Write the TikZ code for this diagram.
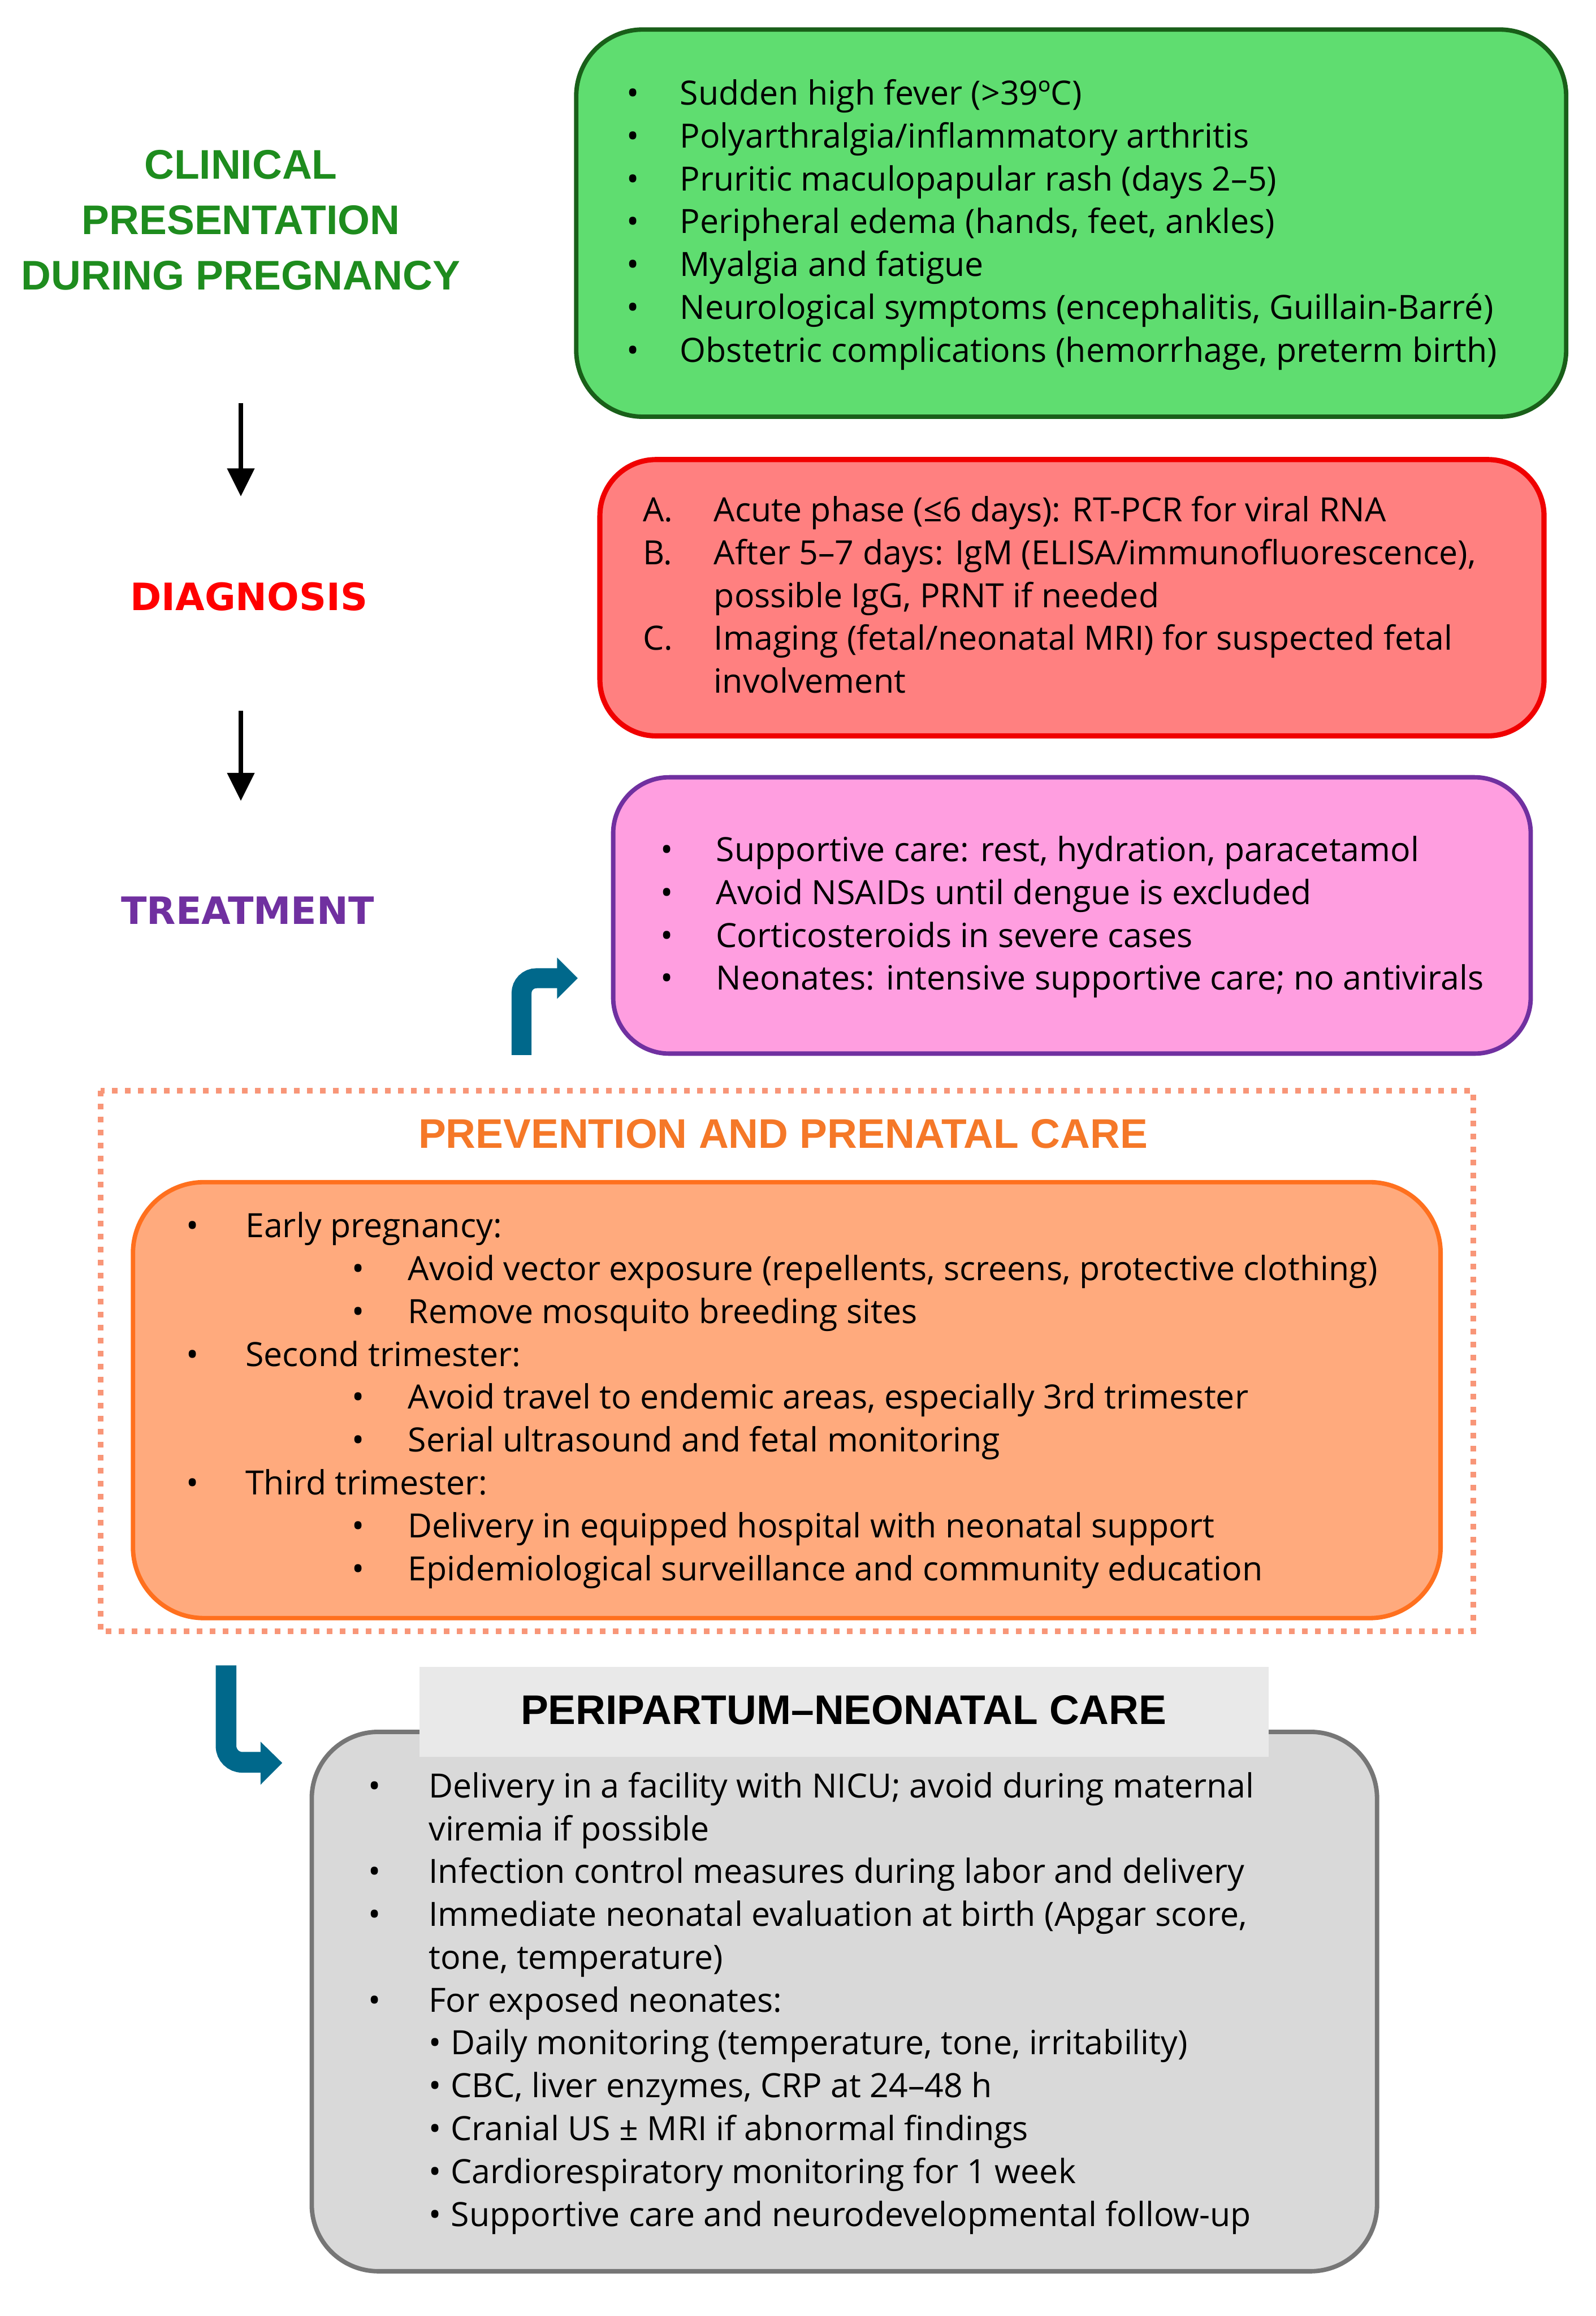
\documentclass[tikz,border=0pt]{standalone}
\usepackage{fontspec}
\setmainfont{Open Sans}
\newfontfamily\headfont{Liberation Sans}
\newfontfamily\dvfont{DejaVu Sans}
\usetikzlibrary{arrows.meta}
\definecolor{greenfill}{RGB}{95,221,112}
\definecolor{greenborder}{RGB}{25,95,25}
\definecolor{greentitle}{RGB}{30,140,30}
\definecolor{redfill}{RGB}{255,128,128}
\definecolor{redborder}{RGB}{240,0,0}
\definecolor{redtitle}{RGB}{255,0,0}
\definecolor{pinkfill}{RGB}{255,158,224}
\definecolor{purpleb}{RGB}{112,48,160}
\definecolor{orangefill}{RGB}{255,170,125}
\definecolor{orangeborder}{RGB}{255,112,30}
\definecolor{orangetitle}{RGB}{245,120,40}
\definecolor{dotcol}{RGB}{248,150,120}
\definecolor{grayfill}{RGB}{217,217,217}
\definecolor{grayborder}{RGB}{118,118,118}
\definecolor{headfill}{RGB}{233,233,233}
\definecolor{tealarrow}{RGB}{0,104,139}
\newcommand\bul[1]{\makebox[#1][l]{•}}
\tikzset{
  panel/.style={draw, line width=3pt, inner sep=0pt},
  body/.style={anchor=base west, inner sep=0pt, font=\fontsize{22.6}{29}\selectfont},
  headA/.style={inner sep=0pt, font=\headfont\bfseries\fontsize{28}{37.5}\selectfont, align=center},
  headB/.style={inner sep=0pt, font=\dvfont\bfseries\fontsize{25.5}{30}\selectfont},
  flowarrow/.style={line width=3pt, -{Triangle[length=19pt,width=18pt]}},
  bentarrow/.style={draw=tealarrow, line width=13.5pt},
}
\begin{document}
\begin{tikzpicture}[x=1pt,y=-1pt]
\useasboundingbox (0,0) rectangle (1080,1567.3);

% ---------- left column titles ----------
\node[headA, text=greentitle, anchor=base] (clin) at (163,196)
  {CLINICAL\\PRESENTATION\\DURING PREGNANCY};
\node[headB, text=redtitle, anchor=base] (diag) at (168.5,413) {DIAGNOSIS};
\node[headB, text=purpleb, anchor=base] (treat) at (167.6,625.3) {TREATMENT};

\coordinate (a1s) at (163,273);
\coordinate (a1e) at (163,336);
\coordinate (a2s) at (163,481);
\coordinate (a2e) at (163,542);
\draw[flowarrow] (a1s) -- (a1e);
\draw[flowarrow] (a2s) -- (a2e);

% ---------- clinical presentation box ----------
\draw[panel, draw=greenborder, fill=greenfill, rounded corners=45pt]
  (390,20) rectangle (1060,282);
\node[body] (clintxt) at (424,71) {\begin{tabular}[t]{@{}l@{}}
\bul{36pt}Sudden high fever (>39ºC)\\
\bul{36pt}Polyarthralgia/inflammatory arthritis\\
\bul{36pt}Pruritic maculopapular rash (days 2–5)\\
\bul{36pt}Peripheral edema (hands, feet, ankles)\\
\bul{36pt}Myalgia and fatigue\\
\bul{36pt}Neurological symptoms (encephalitis, Guillain-Barré)\\
\bul{36pt}Obstetric complications (hemorrhage, preterm birth)
\end{tabular}};

% ---------- diagnosis box ----------
\draw[panel, draw=redborder, fill=redfill, line width=3.5pt, rounded corners=38pt]
  (406,311) rectangle (1045,498);
\node[body] (diagtxt) at (435,353) {\begin{tabular}[t]{@{}l@{}}
\makebox[48pt][l]{A.}Acute phase (≤6 days): RT-PCR for viral RNA\\
\makebox[48pt][l]{B.}After 5–7 days: IgM (ELISA/immunofluorescence),\\
\hspace*{48pt}possible IgG, PRNT if needed\\
\makebox[48pt][l]{C.}Imaging (fetal/neonatal MRI) for suspected fetal\\
\hspace*{48pt}involvement
\end{tabular}};

% ---------- treatment box ----------
\draw[panel, draw=purpleb, fill=pinkfill, rounded corners=38pt]
  (415,526) rectangle (1036,713);
\node[body] (treattxt) at (447,583) {\begin{tabular}[t]{@{}l@{}}
\bul{37.5pt}Supportive care: rest, hydration, paracetamol\\
\bul{37.5pt}Avoid NSAIDs until dengue is excluded\\
\bul{37.5pt}Corticosteroids in severe cases\\
\bul{37.5pt}Neonates: intensive supportive care; no antivirals
\end{tabular}};

% teal bent arrow (up then right)
\coordinate (t1s) at (353,714);
\coordinate (t1e) at (378,662);
\draw[bentarrow, rounded corners=10pt] (t1s) |- (t1e);
\fill[tealarrow] (377,648) -- (391,662) -- (377,676) -- cycle;

% ---------- prevention frame ----------
\draw[draw=dotcol, line width=3.8pt, dash pattern=on 3.8pt off 5pt]
  (68,738) rectangle (997,1104);
\node[headA, text=orangetitle, anchor=base] (prevtitle) at (530,777)
  {PREVENTION AND PRENATAL CARE};
\draw[panel, draw=orangeborder, fill=orangefill, rounded corners=48pt]
  (90,800) rectangle (975,1095);
\node[body] (prevtxt) at (126,837.5) {\begin{tabular}[t]{@{}l@{}}
\bul{40pt}Early pregnancy:\\
\hspace*{112pt}\bul{38pt}Avoid vector exposure (repellents, screens, protective clothing)\\
\hspace*{112pt}\bul{38pt}Remove mosquito breeding sites\\
\bul{40pt}Second trimester:\\
\hspace*{112pt}\bul{38pt}Avoid travel to endemic areas, especially 3rd trimester\\
\hspace*{112pt}\bul{38pt}Serial ultrasound and fetal monitoring\\
\bul{40pt}Third trimester:\\
\hspace*{112pt}\bul{38pt}Delivery in equipped hospital with neonatal support\\
\hspace*{112pt}\bul{38pt}Epidemiological surveillance and community education
\end{tabular}};

% teal bent arrow (down then right)
\coordinate (t2s) at (153,1127);
\coordinate (t2e) at (177,1192.6);
\draw[bentarrow, line width=14pt, rounded corners=11pt] (t2s) |- (t2e);
\fill[tealarrow] (176.3,1178.6) -- (191,1193) -- (176.3,1207.8) -- cycle;

% ---------- peripartum box ----------
\draw[panel, draw=grayborder, fill=grayfill, rounded corners=45pt]
  (211,1172) rectangle (932,1537);
\fill[headfill] (284,1128) rectangle (858.5,1189);
\node[headA, text=black, anchor=base] (peritl) at (571,1167) {PERIPARTUM–NEONATAL CARE};
\node[body] (peritxt) at (249,1216.5) {\begin{tabular}[t]{@{}l@{}}
\bul{41pt}Delivery in a facility with NICU; avoid during maternal\\
\hspace*{41pt}viremia if possible\\
\bul{41pt}Infection control measures during labor and delivery\\
\bul{41pt}Immediate neonatal evaluation at birth (Apgar score,\\
\hspace*{41pt}tone, temperature)\\
\bul{41pt}For exposed neonates:\\
\hspace*{41pt}\bul{15pt}Daily monitoring (temperature, tone, irritability)\\
\hspace*{41pt}\bul{15pt}CBC, liver enzymes, CRP at 24–48 h\\
\hspace*{41pt}\bul{15pt}Cranial US ± MRI if abnormal findings\\
\hspace*{41pt}\bul{15pt}Cardiorespiratory monitoring for 1 week\\
\hspace*{41pt}\bul{15pt}Supportive care and neurodevelopmental follow-up
\end{tabular}};
\end{tikzpicture}
\end{document}
